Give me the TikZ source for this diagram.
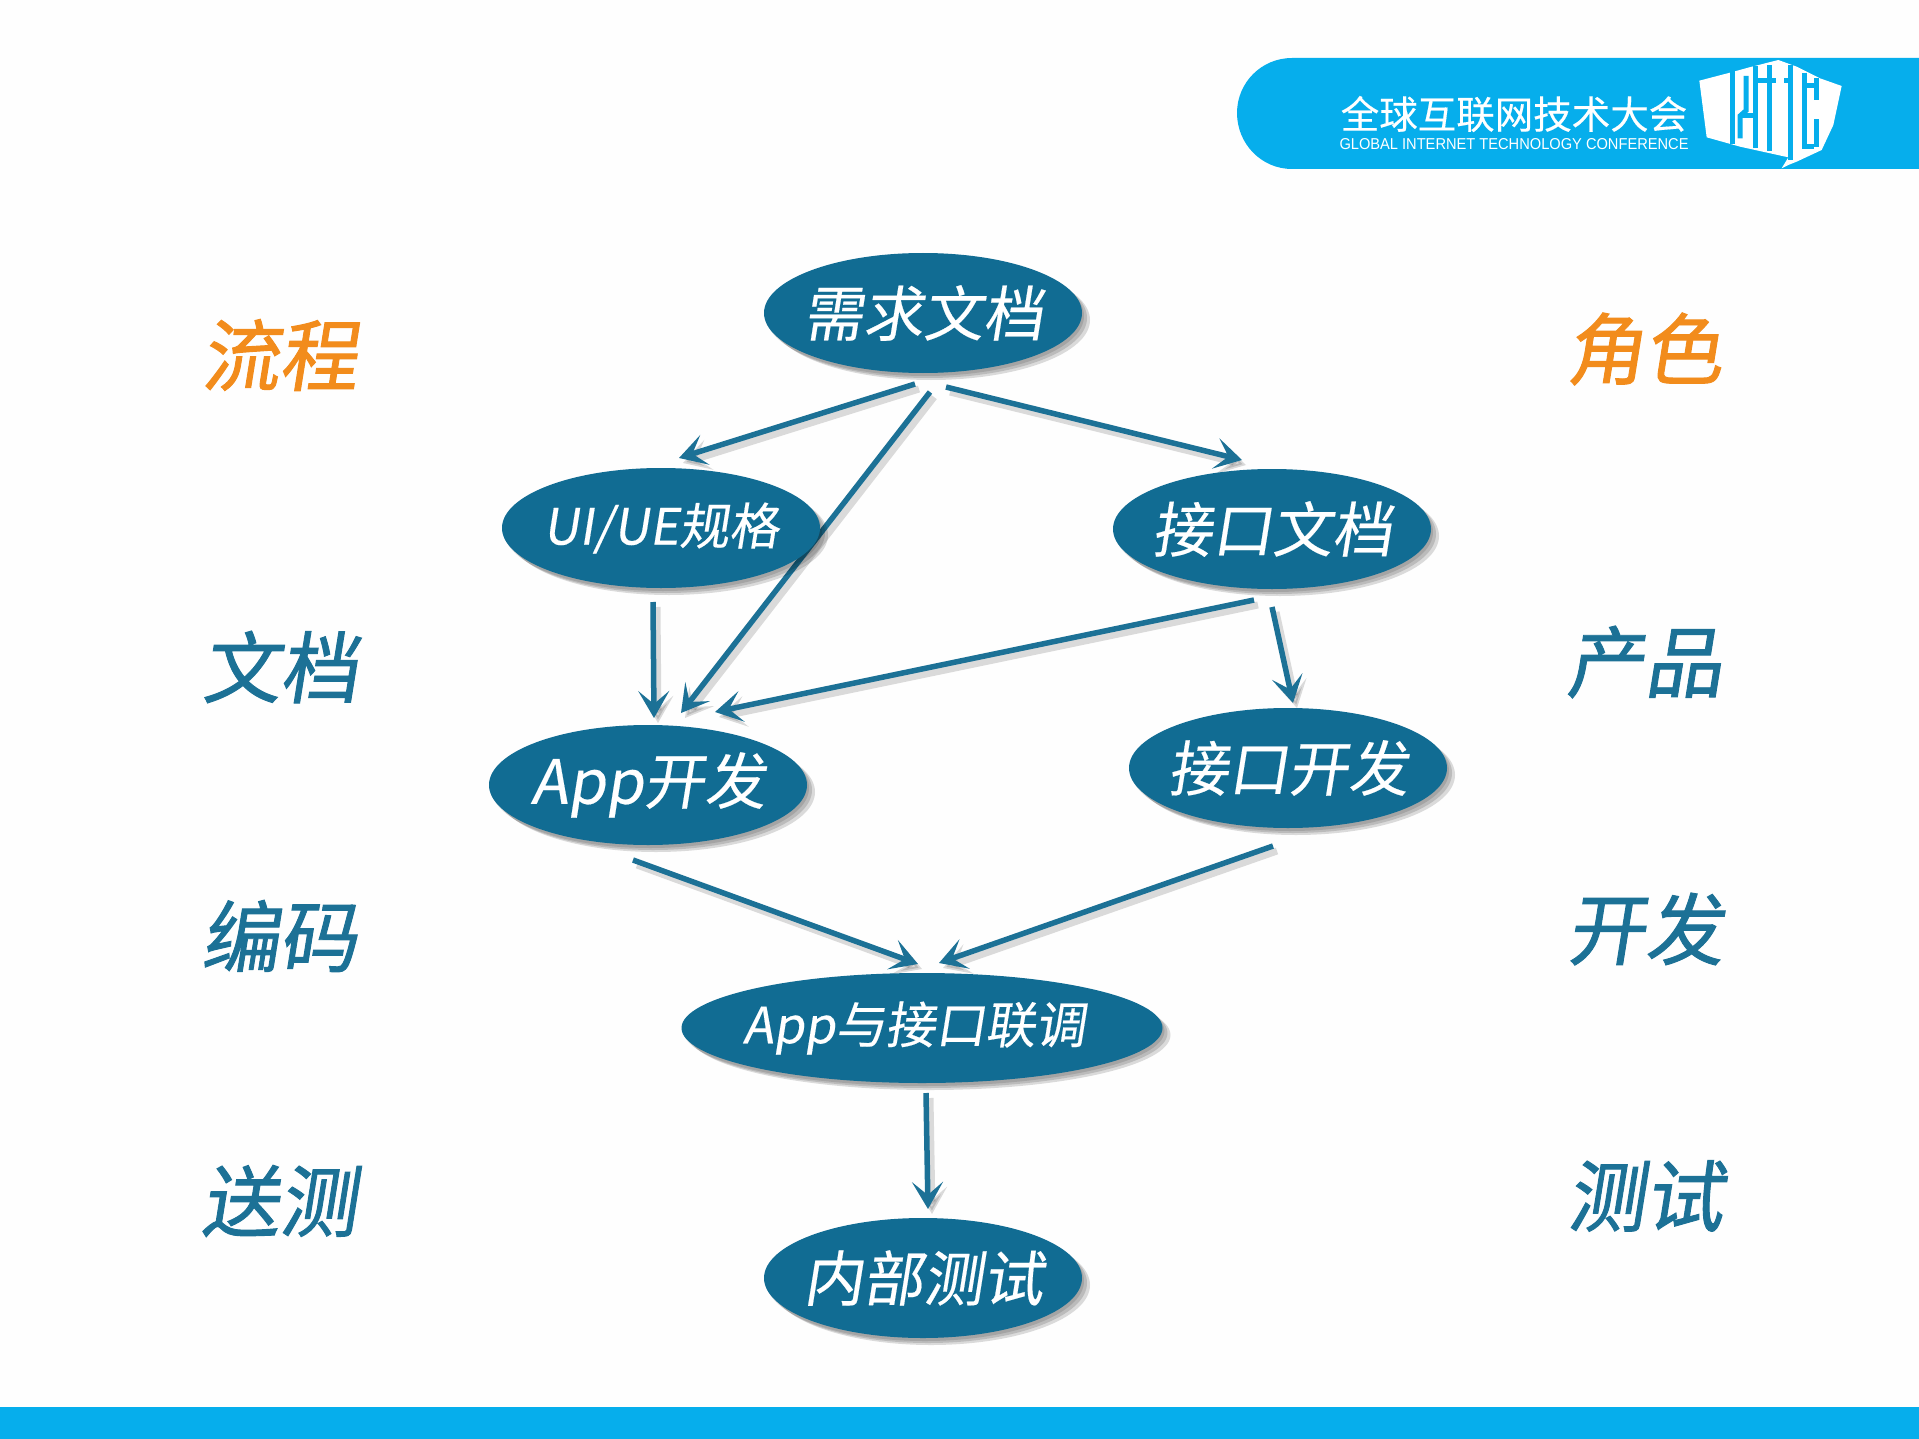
\documentclass[tikz,border=0pt]{standalone}
\usepackage{fontspec}
\usepackage{graphicx}
\usetikzlibrary{shapes.geometric,arrows.meta,calc,shadows,backgrounds}
\newfontfamily\cjkslant[FakeSlant=0.16,FakeBold=0.3]{Noto Sans CJK SC}
\newfontfamily\cjkside[FakeSlant=0.16,FakeBold=1.2]{Noto Sans CJK SC}
\newfontfamily\cjkplain[FakeBold=0.3]{Noto Sans CJK SC}
\setsansfont{Liberation Sans}
\definecolor{ellfill}{HTML}{116C93}
\definecolor{barblue}{HTML}{06AEEC}
\definecolor{sideteal}{HTML}{1C7196}
\definecolor{sideorange}{HTML}{F28C1C}
\newcommand\flowtext[1]{\makebox[0pt]{\raisebox{3pt}{#1}}}
\tikzset{
  flow/.style={ellipse,fill=ellfill,inner sep=0pt,text=white,minimum width=318pt,minimum height=120pt,
    general shadow={fill=black,opacity=.12,shadow xshift=2pt,shadow yshift=-3pt},
    general shadow={fill=black,opacity=.14,shadow xshift=5pt,shadow yshift=-5pt},
    general shadow={fill=black,opacity=.14,shadow xshift=8pt,shadow yshift=-7pt}},
  side/.style={inner sep=0pt,font=\cjkside\fontsize{78}{78}\selectfont},
  conn/.style={draw=sideteal,line width=5.5pt,-{Stealth[length=27pt,width=31pt,inset=13pt]},
    preaction={draw=black,opacity=.14,line width=7pt,transform canvas={xshift=4pt,yshift=-5pt}}},
}
\begin{document}
\begin{tikzpicture}[x=1pt,y=-1pt]
\useasboundingbox (0,0) rectangle (1919,1439);
\begin{scope}[on background layer]
\fill[white!99!gray] (0,0) rectangle (1919,1439);
\fill[barblue] (1919,58) -- (1292,58) to[out=180,in=90] (1237,113) to[out=-90,in=180] (1292,169) -- (1919,169) -- cycle;
\fill[barblue] (0,1407) rectangle (1919,1439);
\end{scope}
\node[inner sep=0pt,text=white,font=\cjkplain\fontsize{38.5}{38.5}\selectfont] (bannertitle) at (1514,114) {全球互联网技术大会};
\node[inner sep=0pt,text=white] (bannersub) at (1514,144) {\resizebox{349pt}{11pt}{\sffamily GLOBAL INTERNET TECHNOLOGY CONFERENCE}};
% logo
\begin{scope}[shift={(1690,50)},x=0.3333pt,y=-0.3333pt]
\fill[white] (28,92) -- (120,68) -- (178,52) -- (265,30) -- (320,50) -- (390,85) -- (455,108) -- (430,225) -- (395,300) -- (320,335) -- (295,345) -- (275,355) -- (295,322) -- (150,290) -- (50,262) -- cycle;
\begin{scope}[draw=barblue,line width=5pt]
\draw (128,60) -- (128,282);
\draw (168,78) -- (168,182) -- (150,198) -- (150,265);
\draw (150,198) -- (188,198);
\draw (197,48) -- (197,295);
\draw (205,92) -- (232,92);
\draw (238,45) -- (238,302);
\draw (238,92) -- (258,92);
\draw (282,92) -- (300,92) -- (300,330);
\draw (300,45) -- (300,92);
\draw (342,68) -- (342,290) -- (372,290);
\draw (342,106) -- (372,106);
\draw (378,84) -- (378,150);
\draw (378,208) -- (378,292);
\end{scope}
\end{scope}
% flow nodes
\node[flow,font=\cjkslant\fontsize{60}{60}\selectfont] (req) at (923,313) {\flowtext{需求文档}};
\node[flow,font=\cjkslant\fontsize{50}{50}\selectfont] (ui) at (661,528) {\flowtext{UI/UE规格}};
\node[flow,font=\cjkslant\fontsize{60}{60}\selectfont] (jw) at (1272,529) {\flowtext{接口文档}};
\node[flow,font=\cjkslant\fontsize{61}{61}\selectfont] (app) at (648,785) {\flowtext{App开发}};
\node[flow,font=\cjkslant\fontsize{60}{60}\selectfont] (jk) at (1288,768) {\flowtext{接口开发}};
\node[flow,minimum width=481pt,minimum height=110pt,font=\cjkslant\fontsize{50}{50}\selectfont] (lt) at (922,1028) {\flowtext{\hspace{-16pt}App与接口联调}};
\node[flow,font=\cjkslant\fontsize{60}{60}\selectfont] (nb) at (923,1278) {\flowtext{内部测试}};
% side labels
\node[side,text=sideorange] (sl1) at (279,355) {流程};
\node[side,text=sideteal] (sl2) at (280,667) {文档};
\node[side,text=sideteal] (sl3) at (279,936) {编码};
\node[side,text=sideteal] (sl4) at (279,1201) {送测};
\node[side,text=sideorange] (sr1) at (1644,349) {角色};
\node[side,text=sideteal] (sr2) at (1644,662) {产品};
\node[side,text=sideteal] (sr3) at (1645,929) {开发};
\node[side,text=sideteal] (sr4) at (1645,1196) {测试};
% connectors, behind the ellipses
\begin{scope}[on background layer]
\draw[conn] ($(req)+(-8,71)$) -- ($(ui)+(18,-70)$);
\draw[conn] ($(req)+(7,79)$) -- ($(app)+(33,-72)$);
\draw[conn] ($(req)+(23,74)$) -- ($(jw)+(-30,-69)$);
\draw[conn] ($(ui)+(-8,74)$) -- ($(app)+(6,-67)$);
\draw[conn] ($(jw)+(-18,71)$) -- ($(app)+(67,-73)$);
\draw[conn] ($(jw)+(0,78)$) -- ($(jk)+(5,-65)$);
\draw[conn] ($(app)+(-15,75)$) -- ($(lt)+(-4,-64)$);
\draw[conn] ($(jk)+(-15,78)$) -- ($(lt)+(17,-65)$);
\draw[conn] ($(lt)+(4,65)$) -- ($(nb)+(5,-69)$);
\end{scope}
\end{tikzpicture}
\end{document}
